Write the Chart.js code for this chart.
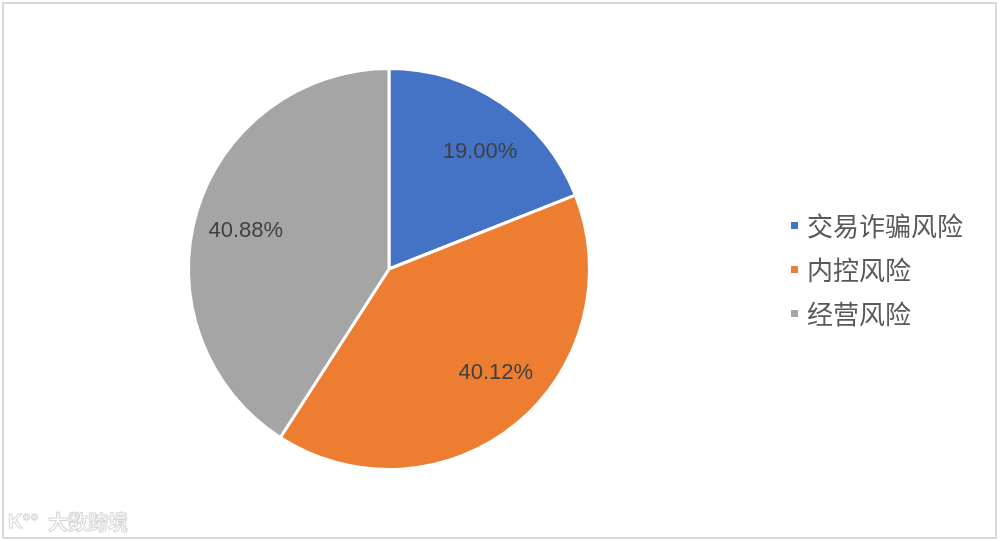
<!DOCTYPE html>
<html><head><meta charset="utf-8">
<script src="https://cdn.jsdelivr.net/npm/chart.js@4"></script>
<style>
html,body{margin:0;padding:0;background:#fff;}
#wrap{position:relative;width:1000px;height:541px;}
#frame{position:absolute;left:2px;top:2px;width:991px;height:533px;border:2px solid #d9d9d9;box-sizing:content-box;pointer-events:none;}
canvas{position:absolute;left:0;top:0;}
</style>
</head><body>
<div id="wrap"><canvas id="c" width="1000" height="541"></canvas><div id="frame"></div></div>
<script>
const categories = ['交易诈骗风险', '内控风险', '经营风险'];
const values = [19.00, 40.12, 40.88];
const valueLabels = ['19.00%', '40.12%', '40.88%'];
const colors = ['#4472c4', '#ed7d31', '#a5a5a5'];

const labelNudge = [[7, 6], [12, -12], [0, 4]];

const labelPlugin = {
  id: 'labels',
  afterDatasetsDraw(chart) {
    const ctx = chart.ctx;
    const meta = chart.getDatasetMeta(0);
    ctx.save();
    ctx.font = '22px "Liberation Sans", Arial, sans-serif';
    ctx.fillStyle = '#404040';
    ctx.textAlign = 'center';
    ctx.textBaseline = 'middle';
    meta.data.forEach((arc, i) => {
      const p = arc.getProps(['x','y','startAngle','endAngle','outerRadius'], true);
      const mid = (p.startAngle + p.endAngle) / 2;
      const r = p.outerRadius * 0.745;
      ctx.fillText(valueLabels[i], p.x + Math.cos(mid) * r + labelNudge[i][0], p.y + Math.sin(mid) * r + labelNudge[i][1]);
    });
    // legend
    ctx.font = '26px "Noto Sans CJK SC", sans-serif';
    ctx.textAlign = 'left';
    categories.forEach((c, i) => {
      const y = 225 + i * 44;
      ctx.fillStyle = colors[i];
      ctx.fillRect(791, y - 3, 7, 7);
      ctx.fillStyle = '#595959';
      ctx.fillText(c, 807, y + 1);
    });
    // watermark
    ctx.font = 'bold 20px "Noto Sans CJK SC", sans-serif';
    ctx.lineWidth = 1;
    ctx.strokeStyle = '#d6d6d6';
    ctx.fillStyle = '#ffffff';
    ctx.fillText('大数跨境', 48, 522);
    ctx.strokeText('大数跨境', 48, 522);
    ctx.font = 'bold 20px "Liberation Sans", sans-serif';
    ctx.fillText('K°°', 8, 522);
    ctx.strokeText('K°°', 8, 522);
    ctx.restore();
  }
};

new Chart(document.getElementById('c'), {
  type: 'pie',
  data: {
    labels: categories,
    datasets: [{
      data: values,
      backgroundColor: colors,
      borderColor: '#ffffff',
      borderWidth: 3
    }]
  },
  options: {
    responsive: false,
    animation: false,
    layout: { padding: { left: 187, right: 409, top: 67, bottom: 70 } },
    plugins: { legend: { display: false }, tooltip: { enabled: false } }
  },
  plugins: [labelPlugin]
});
</script>
</body></html>
